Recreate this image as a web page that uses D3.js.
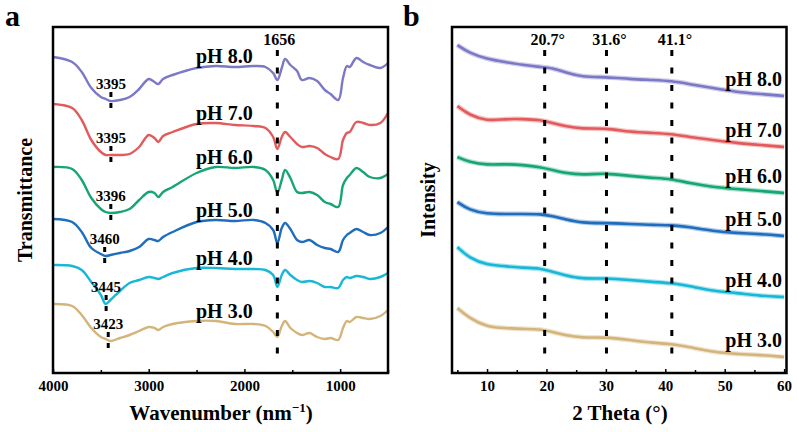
<!DOCTYPE html>
<html>
<head>
<meta charset="utf-8">
<script src="https://cdn.jsdelivr.net/npm/d3@7"></script>
<style>
  body { margin: 0; background: #fff; }
  svg text { font-family: "Liberation Serif", "Times New Roman", serif; font-weight: bold; fill: #000; }
</style>
</head>
<body>
<script>
// FTIR spectra (panel a), transmittance in arbitrary stacked units
var wavenumber = [4000, 3800, 3700, 3600, 3500, 3450, 3400, 3300, 3200, 3100, 3000, 2940, 2900, 2850, 2750, 2500, 2300, 2100, 1900, 1780,
  1700, 1656, 1610, 1575, 1520, 1450, 1400, 1320, 1240, 1160, 1100, 1020, 970, 930, 900, 830, 760, 690, 580, 500];
var ftirPH8 = [31.6, 31.1, 30.1, 28.5, 27.6, 27.4, 27.2, 27.3, 27.6, 28.4, 29.4, 29.1, 28.9, 29.4, 29.8, 30.5, 30.7, 30.6, 30.7, 30.6,
  30.0, 29.3, 30.5, 31.4, 30.8, 30.2, 29.3, 29.5, 29.2, 28.3, 27.9, 27.3, 29.5, 30.7, 30.6, 31.5, 31.1, 30.8, 30.5, 31.0];
var ftirPH7 = [26.9, 26.5, 25.3, 23.3, 22.1, 21.8, 21.8, 21.8, 21.9, 22.6, 23.8, 23.5, 23.1, 23.7, 24.1, 24.9, 25.0, 24.8, 24.7, 24.5,
  23.6, 22.4, 23.6, 24.1, 23.6, 22.9, 22.6, 22.7, 22.5, 21.9, 21.6, 21.4, 23.3, 24.0, 24.1, 25.1, 25.0, 24.8, 25.0, 26.0];
var ftirPH6 = [20.6, 20.4, 19.3, 17.5, 16.4, 16.1, 16.0, 16.1, 16.4, 17.3, 18.1, 18.0, 17.6, 18.1, 18.6, 20.0, 20.6, 20.5, 20.6, 20.3,
  19.3, 18.0, 19.3, 20.3, 19.5, 18.1, 18.0, 18.1, 17.8, 17.1, 16.9, 16.6, 18.8, 19.5, 19.8, 20.5, 20.1, 19.6, 19.5, 19.9];
var ftirPH5 = [15.4, 15.1, 14.1, 12.5, 11.9, 11.7, 11.8, 12.0, 12.2, 12.6, 13.4, 13.3, 13.2, 13.6, 14.1, 15.1, 15.3, 15.2, 15.3, 15.0,
  14.3, 13.0, 14.5, 15.0, 14.4, 13.3, 13.1, 13.3, 12.8, 12.5, 12.4, 12.1, 13.3, 13.8, 14.0, 14.4, 14.1, 13.8, 14.0, 14.6];
var ftirPH4 = [10.8, 10.7, 10.3, 9.1, 7.8, 6.9, 7.3, 8.2, 9.0, 9.3, 9.6, 9.5, 9.4, 9.6, 10.0, 10.5, 10.5, 10.4, 10.4, 10.3,
  9.8, 8.6, 9.8, 10.3, 9.8, 9.3, 9.1, 9.2, 9.0, 8.6, 8.6, 8.5, 9.3, 9.6, 9.5, 9.7, 9.6, 9.4, 9.6, 10.0];
var ftirPH3 = [6.9, 6.7, 5.8, 4.5, 3.6, 3.4, 3.2, 3.5, 3.8, 4.2, 4.6, 4.5, 4.3, 4.6, 4.9, 5.2, 5.2, 4.9, 4.9, 4.7,
  4.1, 3.6, 4.7, 5.2, 4.5, 4.0, 3.8, 4.0, 3.6, 3.4, 3.5, 3.3, 4.5, 5.2, 5.1, 5.6, 5.5, 5.4, 5.7, 6.3];
var ftirPeaks = [3395, 3395, 3396, 3460, 3445, 3423];
var amideBand = 1656;

// XRD patterns (panel b)
var theta = [5, 7, 10, 13, 16, 19, 21, 23, 26, 30, 34, 38, 41, 44, 48, 52, 56, 60];
var xrdPH8 = [32.8, 32.0, 31.4, 31.1, 30.8, 30.6, 30.5, 30.1, 29.6, 29.6, 29.4, 29.3, 29.2, 28.9, 28.5, 28.1, 27.9, 27.7];
var xrdPH7 = [26.7, 25.8, 25.2, 25.4, 25.4, 25.3, 25.0, 24.7, 24.4, 24.5, 24.1, 24.0, 23.9, 23.6, 23.3, 23.0, 22.8, 22.6];
var xrdPH6 = [21.6, 21.1, 20.8, 20.9, 20.8, 20.6, 20.3, 20.0, 19.8, 20.0, 19.7, 19.5, 19.4, 19.0, 18.6, 18.4, 18.2, 18.0];
var xrdPH5 = [17.1, 16.3, 15.9, 15.9, 15.9, 15.9, 15.7, 15.4, 15.0, 15.0, 14.9, 14.8, 14.8, 14.6, 14.2, 14.0, 13.9, 13.7];
var xrdPH4 = [12.6, 11.5, 10.8, 10.7, 10.5, 10.5, 10.1, 9.8, 9.4, 9.5, 9.3, 9.1, 9.0, 8.7, 8.2, 8.0, 7.7, 7.6];
var xrdPH3 = [6.5, 5.5, 4.6, 4.5, 4.4, 4.4, 4.1, 3.8, 3.5, 3.6, 3.3, 3.0, 2.9, 2.6, 2.1, 1.9, 1.8, 1.6];
var xrdPeakPos = [19.7, 30.1, 41.1];
var xrdPeakLabels = ["20.7°", "31.6°", "41.1°"];

var sampleLabels = ["pH 8.0", "pH 7.0", "pH 6.0", "pH 5.0", "pH 4.0", "pH 3.0"];
var colors = ["#7b78c6", "#e35a5c", "#17a673", "#1f6dbd", "#17b7d5", "#d3b47b"];

var ftir = [ftirPH8, ftirPH7, ftirPH6, ftirPH5, ftirPH4, ftirPH3];
var xrd = [xrdPH8, xrdPH7, xrdPH6, xrdPH5, xrdPH4, xrdPH3];

var svg = d3.select("body").append("svg").attr("width", 797).attr("height", 432);

var plotTop = 27, plotBottom = 373;
var y = d3.scaleLinear().domain([0, 34.6]).range([plotBottom, plotTop]);

var xa = d3.scaleLinear().domain([4000, 500]).range([53, 388]);
var xb = d3.scaleLinear().domain([4.1, 60.4]).range([452, 786.5]);

function frameAndAxis(x, major, minor) {
  var r = x.range();
  svg.append("g")
    .attr("transform", "translate(0," + plotBottom + ")")
    .call(d3.axisBottom(x).tickValues(minor).tickSize(-3).tickFormat(""))
    .call(function (g) { g.select(".domain").remove(); g.selectAll("line").attr("stroke-width", 1.5); });
  var ax = svg.append("g")
    .attr("transform", "translate(0," + plotBottom + ")")
    .call(d3.axisBottom(x).tickValues(major).tickSize(-4).tickPadding(7).tickFormat(d3.format("d")));
  ax.select(".domain").remove();
  ax.selectAll("line").attr("stroke-width", 1.5);
  ax.attr("font-family", null).attr("font-size", null);
  ax.selectAll("text").style("font-size", "15px");
  svg.append("rect")
    .attr("x", r[0]).attr("y", plotTop)
    .attr("width", r[1] - r[0]).attr("height", plotBottom - plotTop)
    .attr("fill", "none").attr("stroke", "#000").attr("stroke-width", 2.5);
}

// ---- panel a
var lineA = d3.line()
  .x(function (d, i) { return xa(wavenumber[i]); })
  .y(function (d) { return y(d); })
  .curve(d3.curveCatmullRom.alpha(0.5));

svg.selectAll(".ftir").data(ftir).enter().append("path")
  .attr("class", "ftir")
  .attr("d", lineA)
  .attr("fill", "none")
  .attr("stroke", function (d, i) { return colors[i]; })
  .attr("stroke-width", 2.4);

// 1656 band
svg.append("line")
  .attr("x1", xa(amideBand)).attr("x2", xa(amideBand))
  .attr("y1", 50).attr("y2", 362)
  .attr("stroke", "#000").attr("stroke-width", 3).attr("stroke-dasharray", "6,11.5");
svg.append("text")
  .attr("x", xa(amideBand) + 2).attr("y", 45)
  .attr("text-anchor", "middle").style("font-size", "16px")
  .text(amideBand);

// O-H peak markers and sample names
ftir.forEach(function (s, i) {
  var low = d3.min(s.filter(function (v, k) { return wavenumber[k] > 3000; }));
  var yy = y(low);
  svg.append("line")
    .attr("x1", xa(ftirPeaks[i])).attr("x2", xa(ftirPeaks[i]))
    .attr("y1", yy - 9).attr("y2", yy + 9)
    .attr("stroke", "#000").attr("stroke-width", 3).attr("stroke-dasharray", "5,6");
  svg.append("text")
    .attr("x", xa(ftirPeaks[i])).attr("y", yy - 12)
    .attr("text-anchor", "middle").style("font-size", "15px")
    .text(ftirPeaks[i]);
  svg.append("text")
    .attr("x", xa(2210)).attr("y", y(s[16]) - 3)
    .attr("text-anchor", "middle").style("font-size", "20px")
    .text(sampleLabels[i]);
});

frameAndAxis(xa, [4000, 3000, 2000, 1000], [3500, 2500, 1500, 500]);

// ---- panel b
var lineB = d3.line()
  .x(function (d, i) { return xb(theta[i]); })
  .y(function (d) { return y(d); })
  .curve(d3.curveBasis);

// soft halo under each pattern to mimic the noisy band of the raw scan
svg.selectAll(".xrdHalo").data(xrd).enter().append("path")
  .attr("class", "xrdHalo")
  .attr("d", lineB)
  .attr("fill", "none")
  .attr("stroke", function (d, i) { return colors[i]; })
  .attr("stroke-opacity", 0.35)
  .attr("stroke-width", 5);

svg.selectAll(".xrd").data(xrd).enter().append("path")
  .attr("class", "xrd")
  .attr("d", lineB)
  .attr("fill", "none")
  .attr("stroke", function (d, i) { return colors[i]; })
  .attr("stroke-width", 2.6);

xrdPeakPos.forEach(function (p, i) {
  svg.append("line")
    .attr("x1", xb(p)).attr("x2", xb(p))
    .attr("y1", 50).attr("y2", 360)
    .attr("stroke", "#000").attr("stroke-width", 3).attr("stroke-dasharray", "6,11.5");
  svg.append("text")
    .attr("x", xb(p) + 3).attr("y", 45)
    .attr("text-anchor", "middle").style("font-size", "16px")
    .text(xrdPeakLabels[i]);
});

xrd.forEach(function (s, i) {
  svg.append("text")
    .attr("x", 782).attr("y", y(s[s.length - 1]) - 10)
    .attr("text-anchor", "end").style("font-size", "20px")
    .text(sampleLabels[i]);
});

frameAndAxis(xb, [10, 20, 30, 40, 50, 60], [5, 15, 25, 35, 45, 55]);

// ---- titles
svg.append("text").attr("x", 5).attr("y", 26).style("font-size", "30px").text("a");
svg.append("text").attr("x", 403).attr("y", 26).style("font-size", "30px").text("b");

svg.append("text")
  .attr("transform", "translate(32,200) rotate(-90)")
  .attr("text-anchor", "middle").style("font-size", "20px")
  .text("Transmittance");
svg.append("text")
  .attr("transform", "translate(435,200) rotate(-90)")
  .attr("text-anchor", "middle").style("font-size", "20px")
  .text("Intensity");

var xt = svg.append("text")
  .attr("x", 221).attr("y", 420)
  .attr("text-anchor", "middle").style("font-size", "21px");
xt.append("tspan").text("Wavenumber (nm");
xt.append("tspan").attr("dy", -8).style("font-size", "13px").text("\u22121");
xt.append("tspan").attr("dy", 8).text(")");

svg.append("text")
  .attr("x", 620).attr("y", 420)
  .attr("text-anchor", "middle").style("font-size", "21px")
  .text("2 Theta (°)");
</script>
</body>
</html>
